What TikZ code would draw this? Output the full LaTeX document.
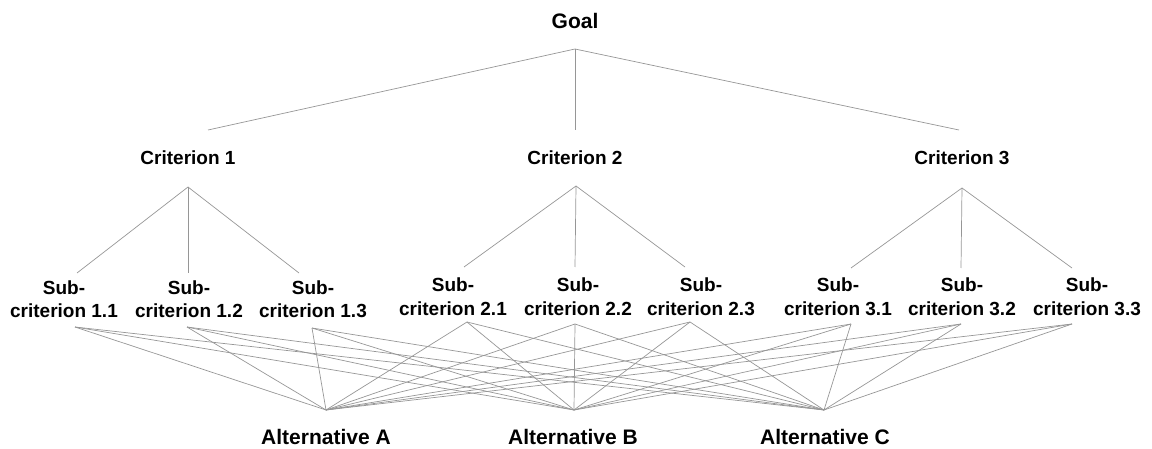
\documentclass[tikz,border=0pt]{standalone}
\usepackage{fontspec}
\setmainfont{Liberation Sans}
\definecolor{linkgray}{RGB}{150,150,150}
\begin{document}
\begin{tikzpicture}[x=1pt,y=-1pt,
  lbl/.style={font=\bfseries\fontsize{19}{24}\selectfont, inner sep=0pt, anchor=base, align=center},
  big/.style={lbl, font=\bfseries\fontsize{21}{25}\selectfont},
  link/.style={draw=linkgray, line width=0.7pt}]
\useasboundingbox (0,0) rectangle (1152,449);

% labels (a two-line label sits on the baseline of its last line)
\node[big] (goal) at (575,29) {Goal};
\node[lbl] (crit1) at (188,165) {Criterion 1};
\node[lbl] (crit2) at (575,165) {Criterion 2};
\node[lbl] (crit3) at (962,165) {Criterion 3};
\node[lbl] (sub11) at (64,318)   {Sub-\\criterion 1.1};
\node[lbl] (sub12) at (189,318)  {Sub-\\criterion 1.2};
\node[lbl] (sub13) at (313,318)  {Sub-\\criterion 1.3};
\node[lbl] (sub21) at (453,316)  {Sub-\\criterion 2.1};
\node[lbl] (sub22) at (578,316)  {Sub-\\criterion 2.2};
\node[lbl] (sub23) at (701,316)  {Sub-\\criterion 2.3};
\node[lbl] (sub31) at (838,316)  {Sub-\\criterion 3.1};
\node[lbl] (sub32) at (962,316)  {Sub-\\criterion 3.2};
\node[lbl] (sub33) at (1087,316) {Sub-\\criterion 3.3};
\node[big] (altA) at (326,444) {Alternative A};
\node[big] (altB) at (573,444) {Alternative B};
\node[big] (altC) at (825,444) {Alternative C};

% connector end points
\coordinate (goal-b) at (575,49);
\coordinate (crit1-t) at (208,130);
\coordinate (crit2-t) at (575,130);
\coordinate (crit3-t) at (959,130);
\coordinate (crit1-b) at (188,187);
\coordinate (crit2-b) at (576,186);
\coordinate (crit3-b) at (962,188);
\coordinate (sub11-t) at (77,273);
\coordinate (sub12-t) at (188,273);
\coordinate (sub13-t) at (299,273);
\coordinate (sub21-t) at (464,267);
\coordinate (sub22-t) at (575,267);
\coordinate (sub23-t) at (685,267);
\coordinate (sub31-t) at (851,268);
\coordinate (sub32-t) at (961,268);
\coordinate (sub33-t) at (1072,268);
\coordinate (sub11-b) at (75,327);
\coordinate (sub12-b) at (187,327);
\coordinate (sub13-b) at (312,328);
\coordinate (sub21-b) at (467,322);
\coordinate (sub22-b) at (575,324);
\coordinate (sub23-b) at (690,322);
\coordinate (sub31-b) at (851,324);
\coordinate (sub32-b) at (961,324);
\coordinate (sub33-b) at (1072,324);
\coordinate (altA-t) at (326,410);
\coordinate (altB-t) at (574,410);
\coordinate (altC-t) at (824,410);

% goal to criteria
\foreach \c in {1,2,3} \draw[link] (goal-b) -- (crit\c-t);
% criteria to sub-criteria
\foreach \c in {1,2,3} \foreach \s in {1,2,3} \draw[link] (crit\c-b) -- (sub\c\s-t);
% every sub-criterion to every alternative
\foreach \s in {11,12,13,21,22,23,31,32,33}
  \foreach \a in {altA,altB,altC}
    \draw[link] (sub\s-b) -- (\a-t);
\end{tikzpicture}
\end{document}
